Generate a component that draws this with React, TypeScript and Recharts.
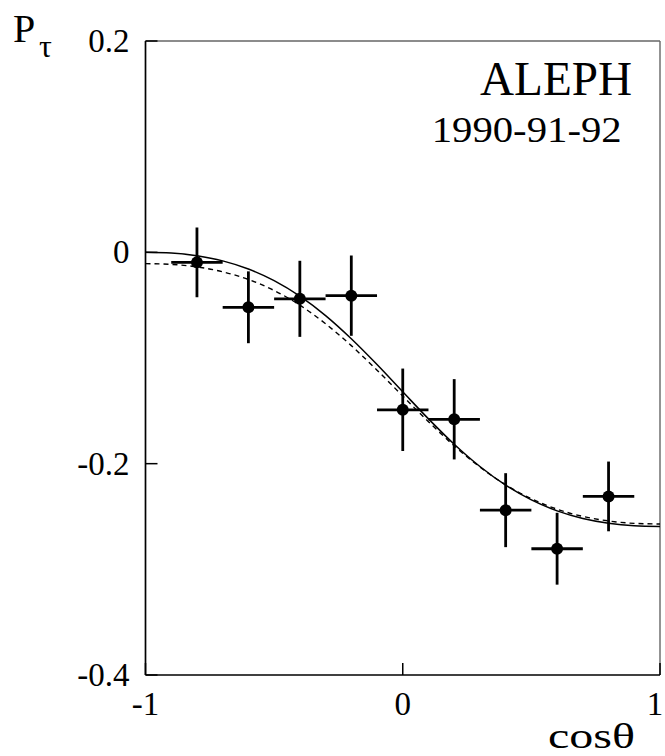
import React from 'react';
import { ComposedChart, Scatter, Line, XAxis, YAxis, ErrorBar, ReferenceLine } from 'recharts';

// measured points
const cosTheta = [-0.8, -0.6, -0.4, -0.2, 0, 0.2, 0.4, 0.6, 0.8];
const polarization = [-0.0095, -0.052, -0.044, -0.041, -0.149, -0.158, -0.244, -0.2805, -0.231];
const polError = [0.033, 0.034, 0.036, 0.038, 0.039, 0.038, 0.035, 0.034, 0.033];
const binHalfWidth = [0.1, 0.1, 0.1, 0.1, 0.1, 0.1, 0.1, 0.1, 0.1];

// fit curves read at steps of 0.1
const curveX = [-1, -0.9, -0.8, -0.7, -0.6, -0.5, -0.4, -0.3, -0.2, -0.1, 0, 0.1, 0.2, 0.3, 0.4, 0.5, 0.6, 0.7, 0.8, 0.9, 1];
const fitSolid = [0, -0.0007, -0.0033, -0.0081, -0.0158, -0.0268, -0.0415, -0.0599, -0.0818, -0.1062, -0.132, -0.1576, -0.1816, -0.2027, -0.2204, -0.2343, -0.2447, -0.2519, -0.2564, -0.2588, -0.2595];
const fitDashed = [-0.0107, -0.0114, -0.0138, -0.0184, -0.0257, -0.0361, -0.05, -0.0676, -0.0883, -0.1115, -0.136, -0.1603, -0.1831, -0.2032, -0.22, -0.2332, -0.2431, -0.2499, -0.2542, -0.2565, -0.2571];

const xTicks = [-1, 0, 1];
const yTicks = [0.2, 0, -0.2, -0.4];

const points = cosTheta.map((x, i) => ({ x, y: polarization[i], ey: polError[i], ex: binHalfWidth[i] }));
const curves = curveX.map((x, i) => ({ x, solid: fitSolid[i], dashed: fitDashed[i] }));

const FONT = 'Liberation Serif, Times New Roman, Times, serif';
const textStyle = { fontFamily: FONT };

const YTick = (props: any) => {
  const { x, y, payload } = props;
  return (
    <g>
      <line x1={x} x2={x + 12} y1={y} y2={y} stroke="#000" strokeWidth={1.5} />
      <text x={x - 16} y={y + 11} textAnchor="end" fontSize={33} style={textStyle} fill="#000">
        {String(payload.value)}
      </text>
    </g>
  );
};

const XTick = (props: any) => {
  const { x, y, payload } = props;
  const shift = payload.value === 1 ? -5 : 0;
  return (
    <g>
      <line x1={x} x2={x} y1={y} y2={y - 12} stroke="#000" strokeWidth={1.5} />
      <text x={x + shift} y={y + 40} textAnchor="middle" fontSize={33} style={textStyle} fill="#000">
        {String(payload.value)}
      </text>
    </g>
  );
};

const Dot = (props: any) => {
  const { cx, cy } = props;
  return <circle cx={cx} cy={cy} r={6} fill="#000" />;
};

export default function App() {
  return (
    <div style={{ position: 'absolute', left: 0, top: 0, width: 665, height: 756, background: '#fff' }}>
      <ComposedChart width={665} height={756} margin={{ top: 41, right: 5, left: 0, bottom: 0 }}>
        <XAxis
          dataKey="x"
          type="number"
          domain={[-1, 1]}
          ticks={xTicks}
          height={81}
          tickSize={0}
          tickMargin={0}
          tickLine={false}
          tick={<XTick />}
          axisLine={{ stroke: '#000', strokeWidth: 1.7 }}
          allowDataOverflow
        />
        <YAxis
          type="number"
          domain={[-0.4, 0.2]}
          ticks={yTicks}
          width={145.5}
          tickSize={0}
          tickMargin={0}
          tickLine={false}
          tick={<YTick />}
          axisLine={{ stroke: '#000', strokeWidth: 1.7 }}
          allowDataOverflow
        />
        <ReferenceLine y={0.2} stroke="#666" strokeWidth={1.4} />
        <ReferenceLine x={1} stroke="#666" strokeWidth={1.4} />
        <Line data={curves} dataKey="solid" type="monotone" stroke="#000" strokeWidth={1.5} dot={false} isAnimationActive={false} />
        <Line data={curves} dataKey="dashed" type="monotone" stroke="#000" strokeWidth={1.4} strokeDasharray="5 4" dot={false} isAnimationActive={false} />
        <Scatter data={points} dataKey="y" shape={<Dot />} isAnimationActive={false}>
          <ErrorBar dataKey="ey" direction="y" width={0} stroke="#000" strokeWidth={2.8} />
          <ErrorBar dataKey="ex" direction="x" width={0} stroke="#000" strokeWidth={2.8} />
        </Scatter>
      </ComposedChart>
      <svg width={665} height={756} style={{ position: 'absolute', left: 0, top: 0, pointerEvents: 'none' }}>
        <text x={13} y={42} fontSize={40} style={textStyle} fill="#000">P</text>
        <text x={39} y={57} fontSize={32} style={textStyle} fill="#000">τ</text>
        <text x={480} y={95} fontSize={48} style={textStyle} fill="#000" textLength={152} lengthAdjust="spacingAndGlyphs">ALEPH</text>
        <text x={431.7} y={141.5} fontSize={36} style={textStyle} fill="#000" textLength={190} lengthAdjust="spacingAndGlyphs">1990-91-92</text>
        <text x={548} y={748} fontSize={36} style={textStyle} fill="#000" textLength={87} lengthAdjust="spacingAndGlyphs">cosθ</text>
      </svg>
    </div>
  );
}
